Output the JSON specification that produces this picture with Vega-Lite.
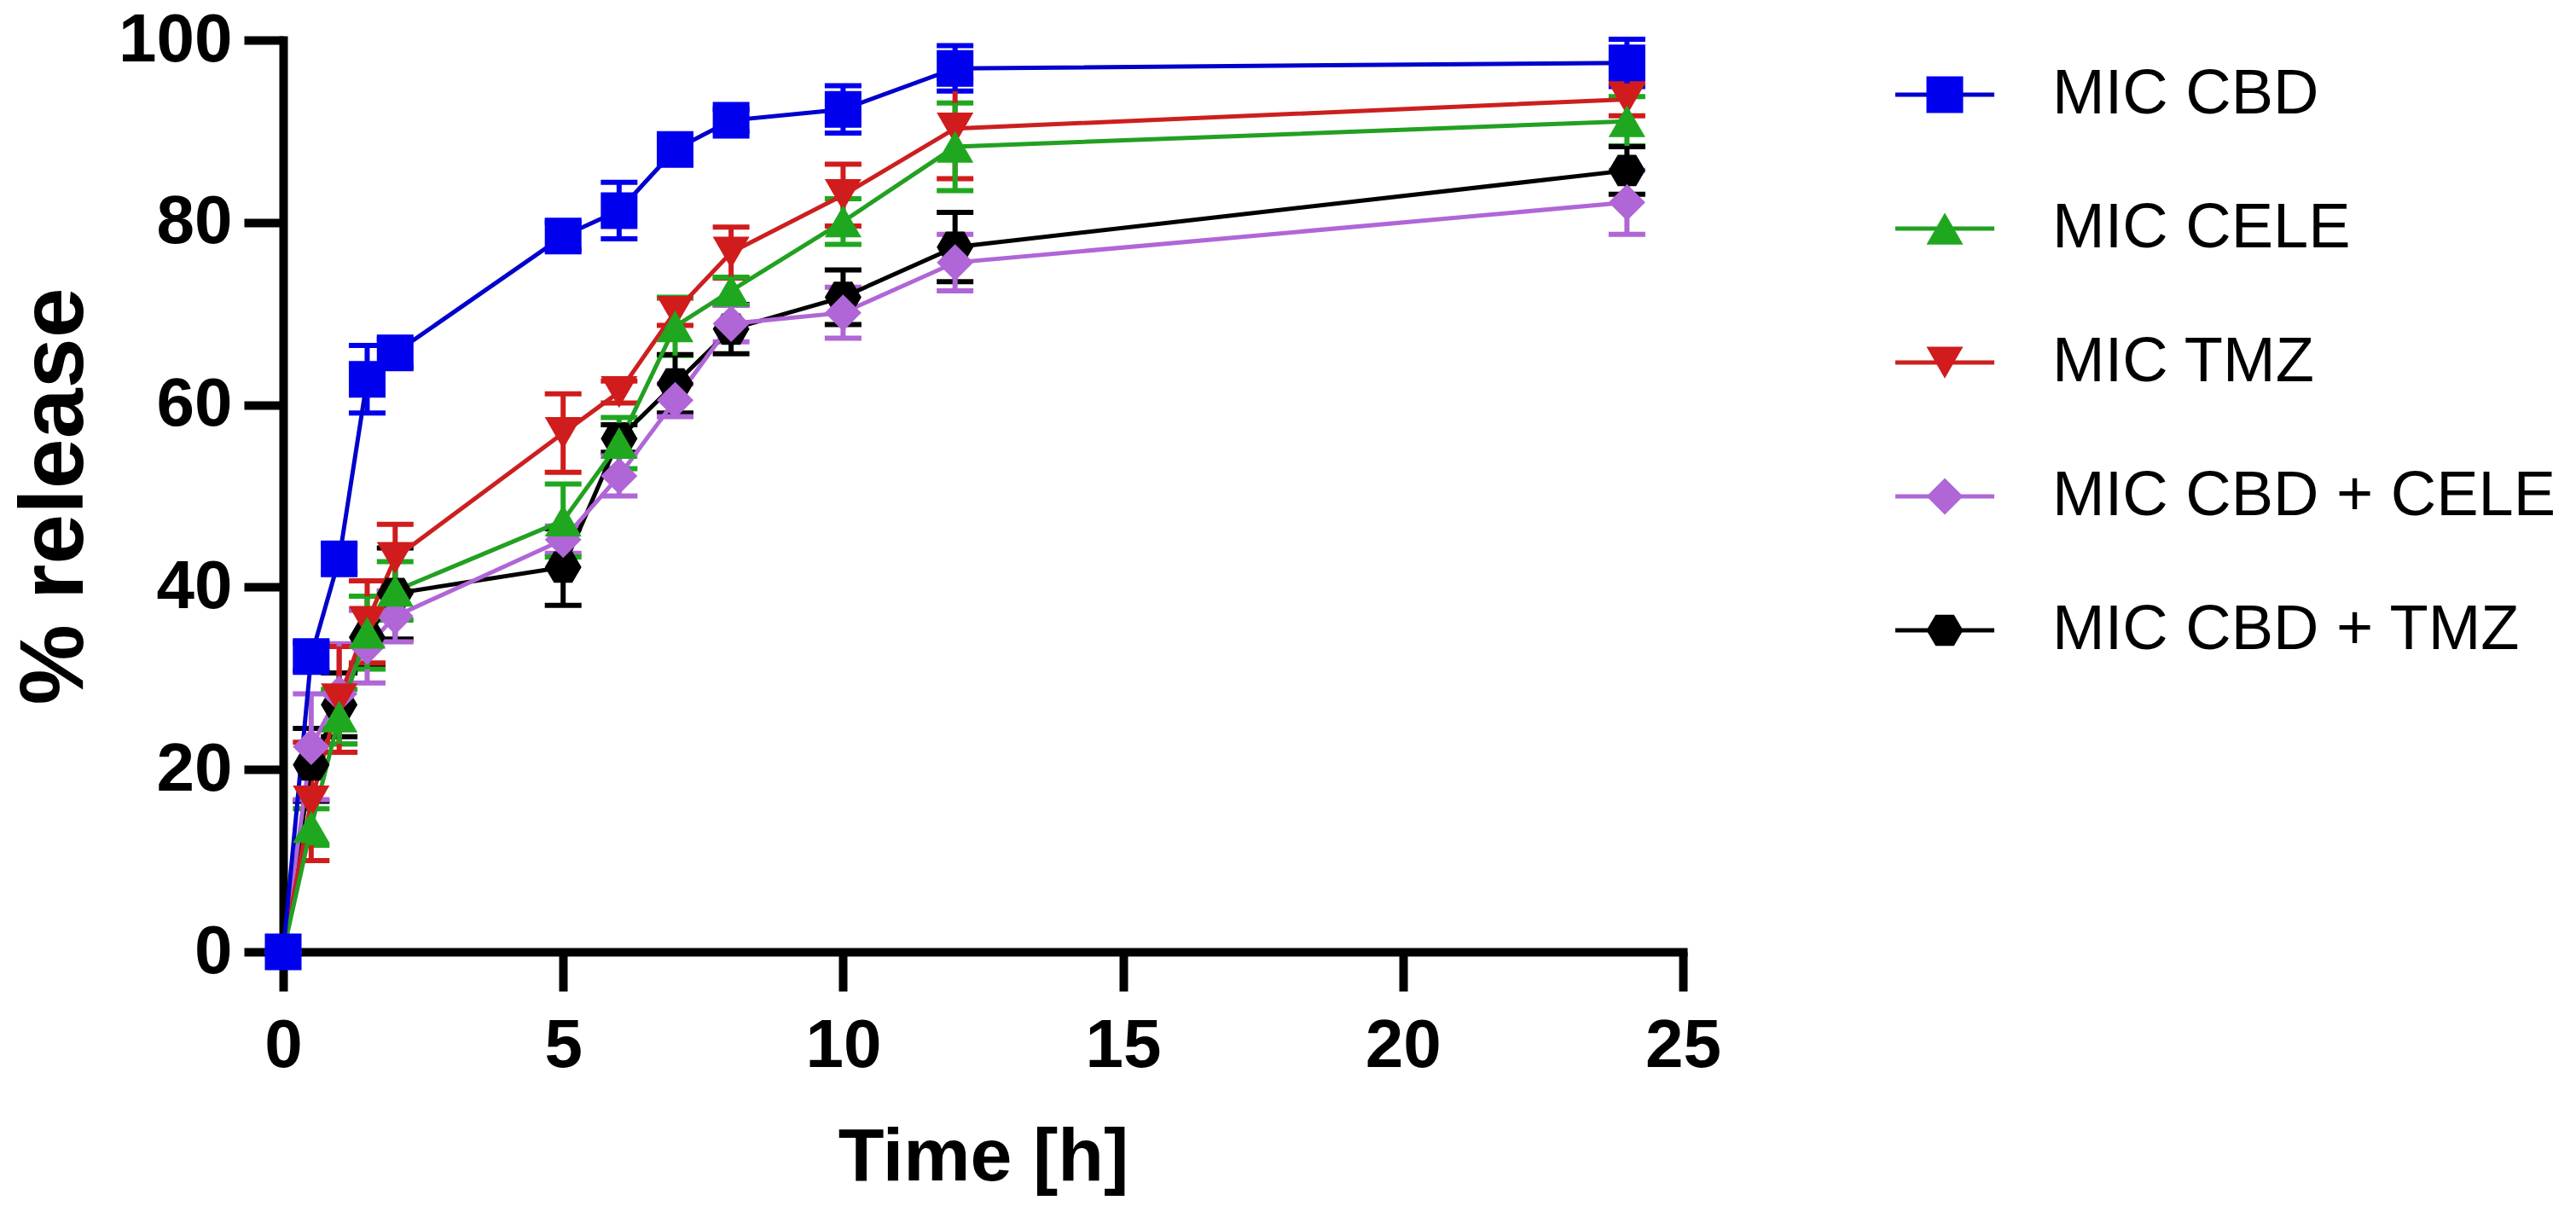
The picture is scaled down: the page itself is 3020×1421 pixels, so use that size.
{
  "$schema": "https://vega.github.io/schema/vega-lite/v6.json",
  "width": 1641,
  "height": 1069,
  "autosize": {"type": "none"},
  "padding": {"left": 332, "top": 47, "right": 1047, "bottom": 305},
  "background": "white",
  "config": {
    "view": {"stroke": null},
    "font": "Liberation Sans",
    "axis": {
      "grid": false,
      "domainColor": "black",
      "domainWidth": 10,
      "domainCap": "square",
      "tickColor": "black",
      "tickWidth": 10,
      "tickSize": 46,
      "labelFont": "Liberation Sans",
      "labelFontSize": 80,
      "labelFontWeight": "bold",
      "labelColor": "black",
      "titleFont": "Liberation Sans",
      "titleFontWeight": "bold",
      "titleColor": "black"
    },
    "legend": {
      "labelFont": "Liberation Sans",
      "labelFontSize": 74,
      "labelColor": "black",
      "labelLimit": 1000,
      "orient": "none",
      "title": null
    }
  },
  "data": {
    "values": [
      {"series": "MIC CBD + TMZ", "time": 0, "mean": 0, "sd": 0},
      {"series": "MIC CBD + TMZ", "time": 0.5, "mean": 20.5, "sd": 4},
      {"series": "MIC CBD + TMZ", "time": 1, "mean": 27.1, "sd": 3.5},
      {"series": "MIC CBD + TMZ", "time": 1.5, "mean": 34.5, "sd": 3},
      {"series": "MIC CBD + TMZ", "time": 2, "mean": 39.3, "sd": 5},
      {"series": "MIC CBD + TMZ", "time": 5, "mean": 42.2, "sd": 4.2},
      {"series": "MIC CBD + TMZ", "time": 6, "mean": 56.3, "sd": 1.5},
      {"series": "MIC CBD + TMZ", "time": 7, "mean": 62.3, "sd": 3.2},
      {"series": "MIC CBD + TMZ", "time": 8, "mean": 68.3, "sd": 2.7},
      {"series": "MIC CBD + TMZ", "time": 10, "mean": 71.8, "sd": 3},
      {"series": "MIC CBD + TMZ", "time": 12, "mean": 77.3, "sd": 3.8},
      {"series": "MIC CBD + TMZ", "time": 24, "mean": 85.7, "sd": 2.6},
      {"series": "MIC CBD + CELE", "time": 0, "mean": 0, "sd": 0},
      {"series": "MIC CBD + CELE", "time": 0.5, "mean": 22.5, "sd": 5.8},
      {"series": "MIC CBD + CELE", "time": 1, "mean": 28.3, "sd": 5.5},
      {"series": "MIC CBD + CELE", "time": 1.5, "mean": 33.5, "sd": 4},
      {"series": "MIC CBD + CELE", "time": 2, "mean": 36.8, "sd": 2.8},
      {"series": "MIC CBD + CELE", "time": 5, "mean": 45.2, "sd": 1.5},
      {"series": "MIC CBD + CELE", "time": 6, "mean": 52.2, "sd": 2.2},
      {"series": "MIC CBD + CELE", "time": 7, "mean": 60.5, "sd": 1.8},
      {"series": "MIC CBD + CELE", "time": 8, "mean": 68.9, "sd": 2},
      {"series": "MIC CBD + CELE", "time": 10, "mean": 70.1, "sd": 2.8},
      {"series": "MIC CBD + CELE", "time": 12, "mean": 75.6, "sd": 3.1},
      {"series": "MIC CBD + CELE", "time": 24, "mean": 82.2, "sd": 3.5},
      {"series": "MIC TMZ", "time": 0, "mean": 0, "sd": 0},
      {"series": "MIC TMZ", "time": 0.5, "mean": 16.5, "sd": 6.5},
      {"series": "MIC TMZ", "time": 1, "mean": 27.7, "sd": 5.8},
      {"series": "MIC TMZ", "time": 1.5, "mean": 36.2, "sd": 4.5},
      {"series": "MIC TMZ", "time": 2, "mean": 43.2, "sd": 3.7},
      {"series": "MIC TMZ", "time": 5, "mean": 56.9, "sd": 4.3},
      {"series": "MIC TMZ", "time": 6, "mean": 61.4, "sd": 1.2},
      {"series": "MIC TMZ", "time": 7, "mean": 70.2, "sd": 1.5},
      {"series": "MIC TMZ", "time": 8, "mean": 76.7, "sd": 2.8},
      {"series": "MIC TMZ", "time": 10, "mean": 83.0, "sd": 3.4},
      {"series": "MIC TMZ", "time": 12, "mean": 90.3, "sd": 5.5},
      {"series": "MIC TMZ", "time": 24, "mean": 93.5, "sd": 1.8},
      {"series": "MIC CELE", "time": 0, "mean": 0, "sd": 0},
      {"series": "MIC CELE", "time": 0.5, "mean": 13.7, "sd": 2},
      {"series": "MIC CELE", "time": 1, "mean": 25.8, "sd": 3},
      {"series": "MIC CELE", "time": 1.5, "mean": 35.0, "sd": 4},
      {"series": "MIC CELE", "time": 2, "mean": 39.6, "sd": 3.2},
      {"series": "MIC CELE", "time": 5, "mean": 47.3, "sd": 4},
      {"series": "MIC CELE", "time": 6, "mean": 55.8, "sd": 2.8},
      {"series": "MIC CELE", "time": 7, "mean": 68.6, "sd": 3.2},
      {"series": "MIC CELE", "time": 8, "mean": 72.5, "sd": 1.5},
      {"series": "MIC CELE", "time": 10, "mean": 80.1, "sd": 2.5},
      {"series": "MIC CELE", "time": 12, "mean": 88.3, "sd": 4.8},
      {"series": "MIC CELE", "time": 24, "mean": 91.1, "sd": 2.7},
      {"series": "MIC CBD", "time": 0, "mean": 0, "sd": 0},
      {"series": "MIC CBD", "time": 0.5, "mean": 32.4, "sd": 1.5},
      {"series": "MIC CBD", "time": 1, "mean": 43.1, "sd": 1.5},
      {"series": "MIC CBD", "time": 1.5, "mean": 62.8, "sd": 3.7},
      {"series": "MIC CBD", "time": 2, "mean": 65.7, "sd": 1.5},
      {"series": "MIC CBD", "time": 5, "mean": 78.5, "sd": 1.5},
      {"series": "MIC CBD", "time": 6, "mean": 81.3, "sd": 3.1},
      {"series": "MIC CBD", "time": 7, "mean": 88.0, "sd": 1.5},
      {"series": "MIC CBD", "time": 8, "mean": 91.2, "sd": 1.2},
      {"series": "MIC CBD", "time": 10, "mean": 92.4, "sd": 2.6},
      {"series": "MIC CBD", "time": 12, "mean": 96.9, "sd": 2.5},
      {"series": "MIC CBD", "time": 24, "mean": 97.5, "sd": 2.6}
    ]
  },
  "encoding": {
    "x": {
      "field": "time",
      "type": "quantitative",
      "scale": {"domain": [0, 25], "nice": false},
      "axis": {
        "values": [0, 5, 10, 15, 20, 25],
        "title": "Time [h]",
        "titleFontSize": 88,
        "titleY": 267,
        "titleBaseline": "alphabetic",
        "labelPadding": 25,
        "labelFlush": false
      }
    },
    "y": {
      "field": "mean",
      "type": "quantitative",
      "scale": {"domain": [0, 100], "nice": false},
      "axis": {
        "values": [0, 20, 40, 60, 80, 100],
        "title": "% release",
        "titleFontSize": 106,
        "titleX": -268,
        "titleBaseline": "middle",
        "labelPadding": 14,
        "labelFlush": false
      }
    }
  },
  "layer": [
    {
      "mark": {"type": "errorbar", "ticks": true, "thickness": 6, "size": 43, "opacity": 1},
      "encoding": {
        "yError": {"field": "sd"},
        "color": {
          "field": "series",
          "type": "nominal",
          "scale": {
            "domain": ["MIC CBD", "MIC CELE", "MIC TMZ", "MIC CBD + CELE", "MIC CBD + TMZ"],
            "range": ["#0000ee", "#1fa81f", "#d01c1c", "#b066d6", "#000000"]
          }
        }
      }
    },
    {
      "mark": {"type": "line", "strokeWidth": 5},
      "encoding": {
        "stroke": {
          "field": "series",
          "type": "nominal",
          "scale": {
            "domain": ["MIC CBD", "MIC CELE", "MIC TMZ", "MIC CBD + CELE", "MIC CBD + TMZ", "-"],
            "range": ["#0000cc", "#22a022", "#cc1f1f", "#b066d6", "#000000", "#ffffff"]
          },
          "legend": {
            "values": ["MIC CBD", "MIC CELE", "MIC TMZ", "MIC CBD + CELE", "MIC CBD + TMZ"],
            "symbolType": "M-2.7,0L2.7,0",
            "symbolSize": 1850,
            "symbolStrokeWidth": 5,
            "symbolOpacity": 1,
            "labelExpr": "''",
            "labelOffset": 89,
            "rowPadding": 83,
            "legendX": 1911,
            "legendY": 27,
            "zindex": 0
          }
        }
      }
    },
    {
      "mark": {"type": "point", "filled": true, "opacity": 1, "size": 1850, "strokeWidth": 0},
      "encoding": {
        "color": {
          "field": "series",
          "type": "nominal",
          "scale": {
            "domain": ["MIC CBD", "MIC CELE", "MIC TMZ", "MIC CBD + CELE", "MIC CBD + TMZ"],
            "range": ["#0000ff", "#00b000", "#ff0000", "#b566d9", "#000000"]
          },
          "legend": {
            "symbolSize": 1850,
            "symbolStrokeWidth": 0,
            "symbolOpacity": 1,
            "labelOffset": 89,
            "rowPadding": 83,
            "legendX": 1911,
            "legendY": 27,
            "zindex": 1
          }
        },
        "shape": {
          "field": "series",
          "type": "nominal",
          "scale": {
            "domain": ["MIC CBD", "MIC CELE", "MIC TMZ", "MIC CBD + CELE", "MIC CBD + TMZ"],
            "range": ["square", "triangle-up", "triangle-down", "diamond", "M-1,0L-0.5,-0.85L0.5,-0.85L1,0L0.5,0.85L-0.5,0.85Z"]
          }
        }
      }
    }
  ]
}
